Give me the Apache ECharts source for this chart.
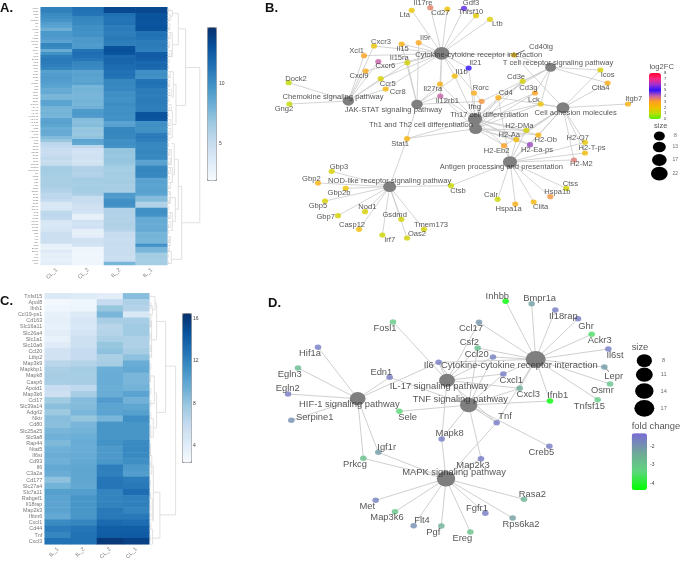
<!DOCTYPE html>
<html><head><meta charset="utf-8">
<style>html,body{margin:0;padding:0;background:#fff}#c{width:681px;height:564px}</style>
<script src="https://cdn.jsdelivr.net/npm/echarts@6/dist/echarts.min.js"></script>
</head><body><div id="c"></div>
<script>
/* ---------- Panel A heat map ---------- */
const aColumns = ['CL_1','CL_2','IL_2','IL_1'];
const aRows = ['Il17re','Cd27','Gdf3','Lta','Tnfsf10','Ltb','Il9r','Cxcr3','Il15','Xcl1','Il15ra','Cd40lg','Cxcr6','Il21','Cxcl9','Il1b','Ccr5','Dock2','Ccr8','Il27ra','Rorc','Cd4','Cd3e','Cd3g','Lck','Il12rb1','Ifng','Icos','Ctla4','Itgb7','Gng2','Stat1','H2-DMa','H2-Aa','H2-Ob','H2-Q7','H2-Ea-ps','H2-T-ps','H2-Eb2','H2-M2','Ctss','Hspa1b','Ciita','Hspa1a','Calr','Ctsb','Gbp3','Gbp2','Gbp2b','Gbp5','Gbp7','Nod1','Casp12','Gsdmd','Tmem173','Irf7','Oas2','Cd2','Cd5','Cd6','Cd8a','Cd8b1','Cd19','Cd22','Cd28','Cd72','Cd79a','Cd79b','Ccl5','Ccl8','Ccl22','Cxcl10','Cxcl13','Tbx21','Gata3','Il2rb','Il7r','Il10','Il21r','Jak3','Socs1','Zap70','Lat','Fasl','Gzmb','Prf1'];
const aCL1 = [10.8,10.8,10.3,10.1,9.8,9.3,9.0,8.3,9.6,9.6,9.4,9.0,10.6,10.4,8.5,9.9,11,11.2,11.1,10.9,10.6,9.1,9.4,9.5,9.4,9.2,9.0,8.5,8.6,7.9,8.0,9,8.9,8.1,8.0,8.1,8.0,9,9.1,8.9,8.4,8.6,8.5,7.7,7,5.6,5.3,5,4.9,5.2,5.4,4.9,5.1,6.5,6.6,6.5,6.3,6.4,6.3,6.4,6.2,6.0,5.5,5.6,5.2,4.0,3.9,4.1,5.5,5.6,5.4,4.1,3.9,4.0,4.2,4.8,4.9,4.8,4.7,3.0,2.9,3.6,3.1,3.3,3.0,3.4];
const aCL2 = [11.6,11.5,11.4,10.6,10.5,10.4,10,10.1,9.9,10,9.5,9.6,9.4,9.5,11.5,11.7,11.6,11.3,10.6,10.5,10.3,9,9.1,9,8.9,9.1,8,8.1,8,7.9,8,8.1,8,8.2,9.5,9.6,9.4,7.5,7.4,7.6,7,7.1,6.9,7.2,9,8.8,5.6,4.6,4.4,4.5,4.6,4.3,4.5,6,6.1,5.9,6,6.6,6.5,6.4,6.6,6.5,6.3,5.1,5,4.9,4.5,4.6,4.4,3.1,3,4.5,4.4,4.6,3.2,3.1,3.2,4.5,4.6,4.4,2.6,2.5,2.4,2.5,2.5,2.6];
const aIL2 = [13.6,13.5,11.6,11.5,11.4,11.5,11,11.1,10.9,11,11.2,11,10.9,13,13.2,13,12,12.2,12.1,11.9,11.8,11.5,11.6,11.4,10.5,10.6,10.4,10.5,10,10.1,9.9,10,10.2,10,10,10.1,9.9,10,9,9.1,10.5,10.6,10.5,10.4,10,10.1,9.9,7,7.1,6.9,7,7.1,6.9,6.5,6.4,6.6,6.5,6.5,6.6,6.4,6.5,6.3,9.5,9.4,10,10.1,9.9,6,6.1,5.9,6,5.9,6.1,6,5.8,5,5.1,4.9,5,5.1,5,4.9,5,4.8,4.9,8];
const aIL1 = [13.5,13.6,13,13.1,13,12.9,13.1,13,11.5,11.6,11.4,11,11.1,11,10.9,12.5,12.6,12.4,12,12.1,11.9,10,10.1,9.9,11.5,11.6,11.4,11,11.1,10.9,11,11.1,11,10.9,11,13,13.1,12.9,10,10.1,9.9,10,11,11.1,10.9,10.5,10.4,10.5,10.6,10.4,10.5,9,9.1,10.5,10.6,10.4,10.5,9,9.1,8.9,9,9.1,8.9,7.5,7.6,6,6.1,10,10.1,9.9,8.5,8.6,8.4,8.5,8.6,8,8.1,7.9,8,10,8,7.9,6.5,6.6,6.4,6.5];
const aScale = [2,14.75];
const aScaleTicks = [5,10];

/* ---------- Panel C heat map ---------- */
const cColumns = ['IL_1','IL_2','CL_2','CL_1'];
const cRows = ['Tnfsf15','Apol8','Ifnb1','Ccl19-ps1','Cd163','Slc16a11','Slc26a4','Slc1a1','Slc10a6','Ccl20','Ltbp2','Map3k9','Mapkbp1','Mapk8','Casp6','Apold1','Map3k6','Ccl17','Slc39a14','Adgrl2','Nktr','Cd80','Slc25a25','Slc9a8','Rap44','Ntat5','Il6st','Cd93','Il6','C3a2a','Cd177','Slc27a4','Slc7a11','Rabgef1','Il18rap','Map2k3','Ifitm6','Cxcl1','Cd44','Tnf','Cxcl3'];
const cIL1 = [4.5,2.8,3.0,3.6,3.8,3.6,4.0,3.6,4.2,5.2,5.2,6.5,7.2,7.4,7.3,5.8,5.4,7.6,8.4,7.8,8.5,8.4,9,9.3,8.8,9.4,9.6,9.4,9.9,9.6,8.3,9.2,10.4,10.2,10.1,10.2,9.8,11.6,12.4,11.9,13];
const cIL2 = [4.3,3.0,3.2,4.4,4.8,4.6,5.0,5.5,5.5,6.0,6.0,6.8,7.5,7.3,7.4,6.3,7.4,8.6,8.7,9,8.0,9,9.2,9.5,9.6,9.6,9.7,9.9,10,10,10,9.9,10.5,11,11,11,11,11.9,12.8,13,13];
const cCL2 = [4.0,6,8,9,7.3,6.6,6.7,7.2,8.0,8.3,7.2,7.3,9.5,9.6,9.6,9.5,9.6,10.6,10.2,10.2,9.0,11,11,11,11.2,10.8,10.8,10.9,12.3,12.2,12.8,12.8,12,12,12.1,12.6,12.6,13.4,14,14.1,16];
const cCL1 = [8.5,7,6.8,4.6,7.3,7.6,7.6,7.0,7.0,7.4,8.3,9.6,9.8,9.0,9.0,9.2,10.2,9.3,10.0,10.4,11.4,11,11,11,11.6,11.8,11.7,11.4,10.8,10.5,12.4,12.6,13.2,12.2,12.2,12,12.6,13.2,14,14.2,15.6];
const cScale = [2.5,16.5];
const cScaleTicks = [4,8,12,16];

/* ---------- Dendrograms: [rowA, heightA, rowB, heightB, mergeHeight] ---------- */
const aTree = [[19.6,18.3,71.4,14.3,32.5],[6.7,11,32.3,8.7,18.3],[1.5,5,12,5,11],[25.2,6,38.6,5,8.7],[59.3,11,83.6,4,14.4],[50.2,7,66.9,8,11],[45,4,55.4,5,7],[63,3,71,5,8],[81,2,85,1,4],
[0.5,0,2.5,3,5],[8,3,16,4,5],[21,3,29.5,4,6],[34,4,43,3,5],[47,2,52,3,4],[53,3,58,3,5],[61,2,65,2,3],[68,3,74,3,5],[76,2,79,2,3]];
const aLeaf = [[0,1,1.5],[2,4,3],[3,4,1.5],[5,7,2.5],[6,7,1.2],[8,10,3],[9,10,1.5],[11,13,2],[12,13,1],[14,16,4],[15,16,2],[17,18,2],[19,20,1.5],[21,23,3],[22,23,1.5],[24,26,2.5],[25,26,1.2],[27,29,4],[28,29,2],[30,31,1.5],[32,34,4],[33,34,2],[35,36,1.5],[37,39,3],[38,39,1.2],[40,42,3],[41,42,1.5],[43,44,2],[45,46,1.5],[47,49,2],[48,49,1],[50,52,3],[51,52,1.5],[53,55,3],[54,55,1.2],[56,57,2],[58,60,3],[59,60,1.5],[61,62,2],[63,65,2],[64,65,1],[66,67,1.5],[68,70,3],[69,70,1.5],[71,73,3],[72,73,1.2],[74,75,1.5],[76,78,2],[77,78,1],[79,81,2],[80,81,1],[82,83,1],[84,85,1]];
const cTree = [[11.4,16.3,35.7,10.6,26.3],[4.1,7.3,18.95,7.3,16.3],[32,4,39.5,3.3,10.6],[1.1,5.7,7.1,2.3,7.3],[15.8,5,21.5,4,7.3],[27.7,2.5,36.7,3,4],[38.1,1.5,40.5,0,3.3],[0,0,2.2,3,5.7],[4,1.5,10,1.5,2.3],[13,1.5,17.5,1.5,5],[20,1.5,23,1.5,4],[26,1.2,29,1,2.5],[33,1.2,36.5,1.5,3]];
const cLeaf = [[1,2,1.5],[1.5,3,3],[3,5,1.5],[4,5,0.8],[6,7,1],[8,9,1.5],[9.5,10,1],[11,12,1.5],[12.5,14,1],[13,14,0.7],[15,16,1.5],[17,18,1.5],[19,20,1.5],[21,23,1.5],[22,23,0.8],[24,26,1.2],[25,26,0.7],[27,28,1],[28.5,29,0.7],[30,31,1],[32,33,1.2],[34,35,0.8],[35.5,36,1.5],[37,38,1.5],[39,40,1]];

/* ---------- Panel B network ---------- */
const bPathways = ['Cytokine-cytokine receptor interaction','T cell receptor signaling pathway','Cell adhesion molecules','Th17 cell differentiation','Th1 and Th2 cell differentiation','JAK-STAT signaling pathway','Chemokine signaling pathway','Antigen processing and presentation','NOD-like receptor signaling pathway'];
const bPathwaySizes = [19,8,13,16,13,9,9,16,13];
const bGenes = ['Il17re','Gdf3','Cd27','Tnfsf10','Lta','Ltb','Il9r','Cxcr3','Il15','Xcl1','Il15ra','Cd40lg','Cxcr6','Il21','Cxcl9','Il1b','Ccr5','Dock2','Ccr8','Il27ra','Rorc','Cd4','Cd3e','Cd3g','Lck','Il12rb1','Ifng','Icos','Ctla4','Itgb7','Gng2','Stat1','H2-DMa','H2-Aa','H2-Ob','H2-Q7','H2-Ea-ps','H2-T-ps','H2-Eb2','H2-M2','Ctss','Hspa1b','Ciita','Hspa1a','Calr','Ctsb','Gbp3','Gbp2','Gbp2b','Gbp5','Gbp7','Nod1','Casp12','Gsdmd','Tmem173','Irf7','Oas2'];
const bLog2FC = [3.5,4.7,2,1.7,1.9,1.6,2.8,1.9,2.5,3,1.4,2.2,4,5,2.7,2.2,1.5,1.1,2.3,2.5,2.7,2.6,1.5,3,1.9,4,3.2,1.5,2.6,2.5,1.1,2.4,1.4,2.2,2.4,1.8,4.3,2.2,3,3.6,1.4,3.2,2.3,2.6,1.2,1.2,1.5,2.5,1.9,1.5,1.5,1.5,2.1,1.4,1.4,1.3,1.4];
const bEdges = {
 'Cytokine-cytokine receptor interaction':['Il17re','Gdf3','Cd27','Tnfsf10','Lta','Ltb','Il9r','Cxcr3','Il15','Xcl1','Il15ra','Cd40lg','Il21','Cxcl9','Ccr5','Ccr8','Il27ra','Il12rb1','Il1b','Ifng'],
 'Chemokine signaling pathway':['Cxcr3','Xcl1','Cxcr6','Cxcl9','Ccr5','Ccr8','Dock2','Gng2','Il15ra'],
 'JAK-STAT signaling pathway':['Il15','Il9r','Il15ra','Il21','Il27ra','Il12rb1','Ifng','Stat1'],
 'Th17 cell differentiation':['Il21','Il1b','Il27ra','Il12rb1','Rorc','Ifng','Cd4','Cd3e','Cd3g','Lck','H2-DMa','H2-Aa','H2-Ob','H2-Eb2','H2-Ea-ps','Stat1'],
 'Th1 and Th2 cell differentiation':['Il12rb1','Ifng','Cd4','Cd3e','Cd3g','Lck','H2-DMa','H2-Aa','H2-Ob','H2-Eb2','H2-Ea-ps','Stat1'],
 'T cell receptor signaling pathway':['Cd40lg','Icos','Ctla4','Cd3e','Cd3g','Cd4','Lck','Ifng'],
 'Cell adhesion molecules':['Cd40lg','Icos','Ctla4','Itgb7','Cd4','Lck','H2-DMa','H2-Aa','H2-Ob','H2-Eb2','H2-Ea-ps','H2-Q7','H2-T-ps','H2-M2'],
 'Antigen processing and presentation':['H2-DMa','H2-Aa','H2-Ob','H2-Eb2','H2-Ea-ps','H2-Q7','H2-T-ps','H2-M2','Ctss','Hspa1b','Ciita','Hspa1a','Calr','Ctsb','Cd4'],
 'NOD-like receptor signaling pathway':['Gbp3','Gbp2','Gbp2b','Gbp5','Gbp7','Nod1','Casp12','Gsdmd','Tmem173','Irf7','Oas2','Ctsb','Stat1']
};
const bSizeLegend = [8,13,17,22];
const bFCRange = [0,8];
const bFCTicks = [0,1,2,3,4,5,6,7,8];
/* layout of the network (node x, node y, label x, label y) */
const bLayout = {
 'Cytokine-cytokine receptor interaction':[605,160,716,165],'T cell receptor signaling pathway':[932,202,954,190],'Cell adhesion molecules':[969,323,1007,340],'Th17 cell differentiation':[705,357,748,346],'Th1 and Th2 cell differentiation':[707,386,543,374],'JAK-STAT signaling pathway':[531,313,460,330],'Chemokine signaling pathway':[325,303,279,291],'Antigen processing and presentation':[810,486,784,501],'NOD-like receptor signaling pathway':[449,560,449,544],
 'Il17re':[571,23,549,8],'Gdf3':[672,25,693,10],'Cd27':[622,27,601,40],'Tnfsf10':[708,47,692,36],'Lta':[515,31,494,45],'Ltb':[750,58,772,73],'Il9r':[536,128,556,115],'Cxcr3':[402,138,423,125],'Il15':[485,132,488,147],'Xcl1':[372,167,350,153],'Il15ra':[502,188,478,175],'Cd40lg':[822,165,903,140],'Cxcr6':[415,185,436,199],'Il21':[686,204,706,189],'Cxcl9':[377,213,357,227],'Il1b':[644,228,665,215],'Ccr5':[422,236,443,251],'Dock2':[146,248,168,236],'Ccr8':[437,267,473,275],'Il27ra':[600,252,578,266],'Rorc':[702,279,722,265],'Cd4':[775,293,797,280],'Cd3e':[848,244,828,232],'Cd3g':[885,279,865,265],'Lck':[902,312,882,299],'Il12rb1':[601,288,622,303],'Ifng':[725,304,704,320],'Icos':[1081,210,1103,225],'Ctla4':[1103,249,1082,265],'Itgb7':[1164,312,1181,298],'Gng2':[148,312,132,328],'Stat1':[501,416,480,431],'H2-DMa':[859,391,838,377],'H2-Aa':[829,419,808,405],'H2-Ob':[895,405,917,420],'H2-Q7':[1035,427,1013,413],'H2-Ea-ps':[870,434,891,449],'H2-T-ps':[1035,459,1056,445],'H2-Eb2':[792,437,770,452],'H2-M2':[1002,480,1024,493],'Ctss':[979,565,991,551],'Hspa1b':[931,590,952,576],'Ciita':[881,606,902,621],'Hspa1a':[826,612,806,627],'Calr':[773,598,753,585],'Ctsb':[633,557,654,572],'Gbp3':[275,514,297,502],'Gbp2':[234,549,214,536],'Gbp2b':[317,565,297,579],'Gbp5':[255,603,234,617],'Gbp7':[294,647,257,650],'Nod1':[375,635,382,621],'Casp12':[357,688,336,675],'Gsdmd':[484,658,464,645],'Tmem173':[552,688,573,675],'Irf7':[427,705,449,720],'Oas2':[501,714,531,703]
};
const bLegendLayout = {sizeTitle:[1262,378],sizeX:1258,sizeY:[408,441,480,521],sizeLabelX:1306,fcTitle:[1265,201]};

/* ---------- Panel D network ---------- */
const dPathways = ['Cytokine-cytokine receptor interaction','IL-17 signaling pathway','TNF signaling pathway','HIF-1 signaling pathway','MAPK signaling pathway'];
const dPathwaySizes = [17,9,12,9,14];
const dGenes = ['Inhbb','Bmpr1a','Il18rap','Ghr','Ackr3','Il6st','Lepr','Osmr','Tnfsf15','Ifnb1','Tnf','Creb5','Cxcl3','Cxcl1','Ccl20','Csf2','Ccl17','Fosl1','Il6','Edn1','Hif1a','Egln3','Egln2','Serpine1','Sele','Mapk8','Igf1r','Prkcg','Map2k3','Rasa2','Fgfr1','Rps6ka2','Ereg','Pgf','Flt4','Map3k6','Met'];
const dFold = [-4.3,-2.2,-1.6,-1.6,-3.5,-1.6,-2.1,-3,-3.1,-4.3,-1.6,-1.6,-2.4,-1.6,-1.7,-2.8,-2,-3.1,-1.6,-1.6,-1.6,-2.8,-1.6,-1.9,-3.4,-1.6,-2.1,-2.9,-1.6,-2.6,-1.6,-2.2,-2.9,-2.5,-1.9,-3,-1.7];
const dEdges = {
 'Cytokine-cytokine receptor interaction':['Inhbb','Bmpr1a','Il18rap','Ghr','Ackr3','Il6st','Lepr','Osmr','Tnfsf15','Ifnb1','Tnf','Cxcl3','Cxcl1','Ccl20','Csf2','Ccl17','Il6'],
 'IL-17 signaling pathway':['Fosl1','Il6','Csf2','Ccl17','Ccl20','Cxcl1','Cxcl3','Tnf','Mapk8'],
 'TNF signaling pathway':['Il6','Edn1','Csf2','Ccl20','Cxcl1','Cxcl3','Ifnb1','Sele','Tnf','Creb5','Mapk8','Map2k3'],
 'HIF-1 signaling pathway':['Hif1a','Egln3','Egln2','Serpine1','Edn1','Il6','Igf1r','Prkcg'],
 'MAPK signaling pathway':['Mapk8','Igf1r','Prkcg','Map2k3','Tnf','Rasa2','Fgfr1','Rps6ka2','Ereg','Pgf','Flt4','Map3k6','Met']
};
const dSizeLegend = [8,11,14,17];
const dFCRange = [-4.34,-1.3];
const dFCTicks = [-4,-3,-2];
const dLayout = {
 'Cytokine-cytokine receptor interaction':[797,208,748,226],'IL-17 signaling pathway':[531,271,507,290],'TNF signaling pathway':[596,345,571,328],'HIF-1 signaling pathway':[263,326,238,344],'MAPK signaling pathway':[528,566,552,548],
 'Inhbb':[707,34,682,18],'Bmpr1a':[785,41,809,24],'Il18rap':[856,60,880,78],'Ghr':[924,86,948,109],'Ackr3':[965,133,989,151],'Il6st':[1015,177,1035,196],'Lepr':[1003,231,1031,258],'Osmr':[1020,282,997,301],'Tnfsf15':[983,329,958,348],'Ifnb1':[840,333,863,316],'Tnf':[680,398,705,380],'Creb5':[838,469,814,488],'Cxcl3':[749,295,775,314],'Cxcl1':[700,252,724,270],'Ccl20':[669,201,620,192],'Csf2':[623,174,598,157],'Ccl17':[627,97,603,116],'Fosl1':[369,96,345,114],'Il6':[506,217,476,227],'Edn1':[359,262,334,246],'Hif1a':[144,172,120,190],'Egln3':[84,234,59,252],'Egln2':[54,312,53,295],'Serpine1':[64,391,134,382],'Sele':[388,364,413,382],'Mapk8':[515,447,539,430],'Igf1r':[325,487,350,472],'Prkcg':[280,505,255,524],'Map2k3':[633,506,609,525],'Rasa2':[762,628,787,612],'Fgfr1':[646,670,621,654],'Rps6ka2':[728,684,753,703],'Ereg':[601,726,577,745],'Pgf':[514,708,490,727],'Flt4':[431,707,456,690],'Map3k6':[375,665,351,683],'Met':[317,631,292,649]
};
const dLegendLayout = {sizeTitle:[1110,172],sizeX:1123,sizeY:[212,254,303,355],sizeLabelX:1181,fcTitle:[1158,410]};

/* ---------- Assembly ---------- */
const BLUES = ['#f7fbff','#deebf7','#c6dbef','#9ecae1','#6baed6','#4292c6','#2171b5','#08519c','#08306b'];
const OVAL = 'path://M0 1A1 1 0 1 0 2 1A1 1 0 1 0 0 1Z';
const grid=[],xAxis=[],yAxis=[],series=[],visualMap=[];
function addGrid(g,x,y){grid.push(g);x.gridIndex=grid.length-1;y.gridIndex=grid.length-1;xAxis.push(x);yAxis.push(y);return grid.length-1;}
function addSeries(s){series.push(s);return series.length-1;}
const hidden=(min,max,inv)=>({type:'value',min,max,inverse:!!inv,show:false,splitLine:{show:false}});

function heat(box,cols,rows,colArrays,range,rowFont,colFont){
  const gi=addGrid(box,
   {type:'category',data:cols,axisLine:{show:false},axisTick:{length:2,lineStyle:{color:'#bbb',width:.5}},splitLine:{show:false},
    axisLabel:{rotate:45,fontSize:colFont,color:'#777',margin:4,fontFamily:'Liberation Sans'}},
   {type:'category',data:rows,inverse:true,axisLine:{show:false},axisTick:{length:1.5,lineStyle:{color:'#bbb',width:.4}},splitLine:{show:false},
    axisLabel:{interval:0,fontSize:rowFont,color:'#777',margin:2.5,fontFamily:'Liberation Sans'}});
  const data=[];colArrays.forEach((a,c)=>a.forEach((v,r)=>data.push([c,r,v])));
  const si=addSeries({type:'heatmap',xAxisIndex:gi,yAxisIndex:gi,data,silent:true,itemStyle:{borderWidth:0},emphasis:{disabled:true}});
  return si;
}
function colorBar(si,box,range,ticks,colors,dim,font,border,tickColor){
  visualMap.push({type:'continuous',seriesIndex:si,dimension:dim,min:range[0],max:range[1],calculable:false,realtime:false,
    left:box.left,top:box.top,itemWidth:box.width,itemHeight:box.height,padding:0,text:null,showLabel:false,
    borderColor:border||'transparent',borderWidth:border?1:0,inRange:{color:colors},hoverLink:false});
  addGrid({left:box.left,top:box.top,width:box.width,height:box.height},
    hidden(0,1),
    {type:'value',min:range[0],max:range[1],position:'right',splitLine:{show:false},axisLine:{show:false},
     axisTick:{show:false},axisLabel:{customValues:ticks,fontSize:font,color:tickColor||'#444',margin:box.margin||3,fontFamily:'Liberation Sans',showMinLabel:true,showMaxLabel:true}});
}
function dendro(box,rows,hMax,tree,leaf,color){
  const gi=addGrid(box,hidden(0,hMax),hidden(0,rows,true));
  const r=v=>v+0.5;
  const d=[];
  tree.forEach(t=>d.push({coords:[[t[1],r(t[0])],[t[4],r(t[0])],[t[4],r(t[2])],[t[3],r(t[2])]]}));
  addSeries({type:'lines',coordinateSystem:'cartesian2d',xAxisIndex:gi,yAxisIndex:gi,polyline:true,silent:true,data:d,lineStyle:{color:color,width:1,opacity:1}});
  const l=leaf.map(t=>({coords:[[0,r(t[0])],[t[2],r(t[0])],[t[2],r(t[1])],[0,r(t[1])]]}));
  addSeries({type:'lines',coordinateSystem:'cartesian2d',xAxisIndex:gi,yAxisIndex:gi,polyline:true,silent:true,data:l,lineStyle:{color:'#c6c6c6',width:.5,opacity:1}});
}
function network(box,W,H,pathways,pathSizes,genes,vals,edges,layout,sizeOf,squash,geneSize,font,edgeW,connectors,legend,sizeLegend,legendFont){
  const gi=addGrid(box,hidden(0,W),hidden(0,H,true));
  const oval=d=>[d,d*squash];
  const nodes=[];
  pathways.forEach((p,i)=>nodes.push({name:p,value:layout[p].slice(0,2),symbol:OVAL,symbolSize:oval(sizeOf(pathSizes[i])),symbolKeepAspect:false,itemStyle:{color:'#7f7f7f'}}));
  genes.forEach(g=>nodes.push({name:g,value:layout[g].slice(0,2),symbolSize:1,itemStyle:{color:'#c8c8c8'}}));
  const links=[];
  Object.keys(edges).forEach(p=>edges[p].forEach(g=>links.push({source:p,target:g})));
  addSeries({type:'graph',coordinateSystem:'cartesian2d',xAxisIndex:gi,yAxisIndex:gi,layout:'none',data:nodes,links,silent:true,
    label:{show:false},lineStyle:{color:'#c9c9c9',width:edgeW,opacity:1,curveness:0},emphasis:{disabled:true},z:2});
  const conn=connectors.map(c=>({coords:[layout[c].slice(0,2),[layout[c][0]+(c==='Lepr'?14:32),layout[c][1]+(c==='Lepr'?14:-14)]]}));
  if(conn.length) addSeries({type:'lines',coordinateSystem:'cartesian2d',xAxisIndex:gi,yAxisIndex:gi,silent:true,data:conn,lineStyle:{color:'#333',width:.7,opacity:1},z:3});
  const si=addSeries({type:'scatter',xAxisIndex:gi,yAxisIndex:gi,silent:true,symbol:OVAL,symbolSize:oval(geneSize),symbolKeepAspect:false,z:4,
    data:genes.map((g,i)=>({name:g,value:[layout[g][0],layout[g][1],vals[i]]}))});
  const lab=pathways.concat(genes).map(n=>({name:n,value:[layout[n][2],layout[n][3]]}));
  addSeries({type:'scatter',xAxisIndex:gi,yAxisIndex:gi,silent:true,symbolSize:0,z:5,data:lab,
    label:{show:true,position:'inside',formatter:'{b}',fontSize:font,color:'#2b2b2b',fontFamily:'Liberation Sans',align:'center',verticalAlign:'middle'}});
  addSeries({type:'scatter',xAxisIndex:gi,yAxisIndex:gi,silent:true,z:4,itemStyle:{color:'#000',opacity:1},symbol:OVAL,symbolKeepAspect:false,
    data:sizeLegend.map((s,i)=>({value:[legend.sizeX,legend.sizeY[i]],symbolSize:oval(sizeOf(s))}))});
  addSeries({type:'scatter',xAxisIndex:gi,yAxisIndex:gi,silent:true,symbolSize:0,z:5,
    data:sizeLegend.map((s,i)=>({name:String(s),value:[legend.sizeLabelX,legend.sizeY[i]]})),
    label:{show:true,position:'inside',formatter:'{b}',fontSize:legendFont,color:'#444',fontFamily:'Liberation Sans'}});
  addSeries({type:'scatter',xAxisIndex:gi,yAxisIndex:gi,silent:true,symbolSize:0,z:5,
    data:[{name:'size',value:legend.sizeTitle},{name:legend.fcName,value:legend.fcTitle}],
    label:{show:true,position:'inside',formatter:'{b}',fontSize:font,color:'#2b2b2b',fontFamily:'Liberation Sans'}});
  return si;
}

const hA=heat({left:40.7,top:7.3,width:126.6,height:257.7},aColumns,aRows,[aCL1,aCL2,aIL2,aIL1],aScale,2.3,5.5);
colorBar(hA,{left:207,top:27,width:9,height:153,margin:3},aScale,aScaleTicks,BLUES,2,5,'#9a9a9a');
dendro({left:167.3,top:7.3,width:33,height:257.7},86,33,aTree,aLeaf,'#e0e0e0');

const hC=heat({left:44.7,top:293.3,width:104.6,height:251},cColumns,cRows,[cIL1,cIL2,cCL2,cCL1],cScale,5.4,5.5);
colorBar(hC,{left:182,top:313,width:9,height:149,margin:2},cScale,cScaleTicks,BLUES,2,5,'#9a9a9a');
dendro({left:149.3,top:293.3,width:27,height:251},41,27,cTree,cLeaf,'#e0e0e0');

bLegendLayout.fcName='log2FC'; dLegendLayout.fcName='fold change';
const lerp=(a,b,c,d)=>n=>c+(n-a)*(d-c)/(b-a);
const nB=network({left:240,top:0,width:441,height:290},1323,870,bPathways,bPathwaySizes,bGenes,bLog2FC,bEdges,bLayout,lerp(8,22,11,16.7),.82,6.2,7.6,.8,['Cd40lg'],bLegendLayout,bSizeLegend,5);
const FC_COLORS=['#55f000','#bedd00','#f0c000','#ffa020','#c860a8','#3010ff','#a030d0','#ff2880','#ff0030'];
colorBar(nB,{left:649,top:73,width:12,height:46,margin:3},bFCRange,bFCTicks,FC_COLORS,2,4.2);

const nD=network({left:270,top:290,width:411,height:274},1233,822,dPathways,dPathwaySizes,dGenes,dFold,dEdges,dLayout,lerp(8,17,15.3,20),.84,6.6,9.4,.9,['Lepr'],dLegendLayout,dSizeLegend,5.6);
const D_COLORS=['#00ff00','#5ed57e','#70a69a','#7a6bd6'];
colorBar(nD,{left:631.7,top:433.3,width:15.3,height:56.7,margin:3},dFCRange,dFCTicks,D_COLORS,2,5);

const panelLabels=[['A.',0,2],['B.',265,2],['C.',0,295],['D.',268,297]];
const option={animation:false,backgroundColor:'#fff',grid,xAxis,yAxis,series,visualMap,
  title:panelLabels.map(p=>({text:p[0],left:p[1],top:p[2],padding:0,textStyle:{fontSize:13,fontWeight:'bold',color:'#111',fontFamily:'Liberation Sans'}}))};
echarts.init(document.getElementById('c'),null,{renderer:'canvas'}).setOption(option);
</script></body></html>
